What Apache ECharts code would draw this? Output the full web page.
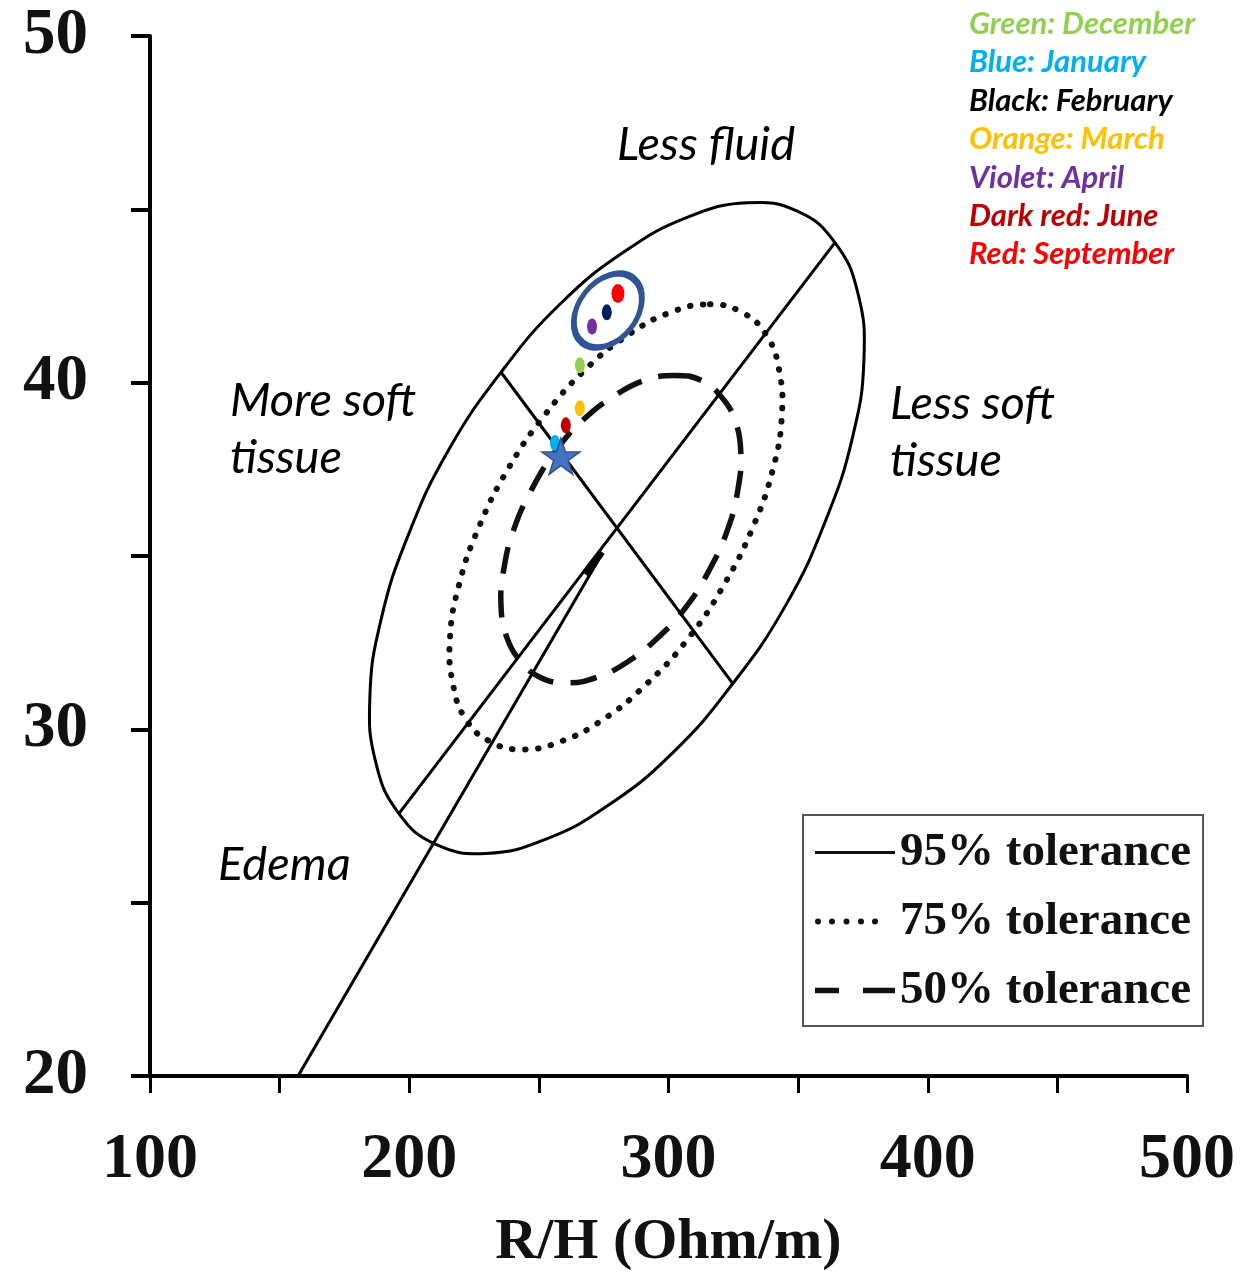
<!DOCTYPE html>
<html><head><meta charset="utf-8">
<script src="https://cdn.jsdelivr.net/npm/echarts@6/dist/echarts.min.js"></script>
<style>html,body{margin:0;padding:0;background:#fff}#c{width:1246px;height:1277px}</style>
</head><body><div id="c"></div>
<script>
// ---- data (R/H, Xc/H) ----
const xTickValues = [100, 200, 300, 400, 500];
const yTickValues = [20, 30, 40, 50];
const ellipse95 = [[364.2,44.04],[373.0,42.60],[375.4,40.70],[371.1,38.46],[360.7,36.04],[345.3,33.59],[324.8,31.32],[301.7,29.33],[276.6,27.80],[252.3,26.82],[229.6,26.42],[210.3,26.68],[196.0,27.57],[187.2,29.01],[184.8,30.91],[189.1,33.16],[199.5,35.58],[214.9,38.02],[235.4,40.30],[258.5,42.29],[283.6,43.81],[307.9,44.79],[330.6,45.19],[349.9,44.94]];
const ellipse75 = [[316.0,42.26],[328.3,42.03],[337.6,41.39],[342.6,40.39],[343.7,39.03],[340.3,37.51],[332.6,35.84],[321.4,34.17],[307.5,32.61],[291.3,31.29],[274.7,30.28],[258.5,29.65],[243.5,29.42],[231.1,29.65],[221.9,30.28],[216.9,31.29],[215.7,32.61],[219.2,34.17],[226.9,35.84],[238.1,37.51],[251.9,39.03],[268.1,40.39],[284.7,41.39],[300.9,42.03]];
const ellipse50 = [[302.5,40.21],[312.5,40.07],[320.2,39.61],[325.6,38.92],[327.9,38.00],[326.8,36.93],[322.9,35.78],[316.0,34.63],[307.1,33.56],[295.9,32.64],[284.3,31.95],[272.0,31.49],[260.8,31.34],[250.8,31.49],[243.1,31.95],[237.7,32.64],[235.4,33.56],[236.5,34.63],[240.4,35.78],[247.3,36.93],[256.2,38.00],[267.0,38.92],[278.9,39.61],[290.9,40.07]];
const majorAxis = [[196.0,27.57],[364.2,44.04]];
const minorAxis = [[235.4,40.30],[324.8,31.32]];
const edemaLine = [[157.1,20.0],[274.3,35.06]];
const edemaTip = [[267.8,34.48],[274.3,35.12]];
const monthLabels = ['Green: December','Blue: January','Black: February','Orange: March','Violet: April','Dark red: June','Red: September'];
const monthR  = [265.8, 256.2, 276.2, 265.8, 270.5, 260.4, 280.5];
const monthXc = [40.50, 38.26, 42.03, 39.26, 41.62, 38.77, 42.57];
const baseline = [258.5, 37.88];
const clusterCenter = [276.6, 42.08];
const toleranceNames = ['95% tolerance','75% tolerance','50% tolerance'];

// ---- styles ----
const dotColors = ['#92D050','#00B0F0','#002060','#FFC000','#7030A0','#C00000','#FF0000'];
const labelColors = ['#92D050','#00B0F0','#000000','#FFC000','#7030A0','#C00000','#FF0000'];
const starPath = 'path://M50,0 L61.2,34.5 L97.6,34.5 L68.2,55.9 L79.4,90.5 L50,69.1 L20.6,90.5 L31.8,55.9 L2.4,34.5 L38.8,34.5 Z';
const dot = c => `M${c-3},10 A3,3 0 1,1 ${c+3},10 A3,3 0 1,1 ${c-3},10 Z `;
const legendIcons = [
  'path://M0,0 M80,20 M0,8.5 H80 V11.5 H0 Z',
  'path://M0,0 M80,20 ' + [3, 17, 31.5, 46, 60].map(dot).join(''),
  'path://M0,0 M80,20 M0,7.3 H24 V12.7 H0 Z M48,7.3 H80 V12.7 H48 Z'
];
const toleranceStyles = [
  {stroke: '#000', lineWidth: 3},
  {stroke: '#111', lineWidth: 6, lineDash: [0.5, 12.5], lineCap: 'round'},
  {stroke: '#111', lineWidth: 5.5, lineDash: [27, 17], lineCap: 'butt'}
];

const chart = echarts.init(document.getElementById('c'), null, {renderer: 'canvas'});

function ellipseSeries(name, pts, style) {
  return {type: 'custom', name: name, data: pts, silent: true, animation: false, z: 3, clip: false,
    itemStyle: {color: '#111'},
    renderItem: (params, api) => {
      if (params.dataIndex !== 0) return null;
      const p = pts.map(d => api.coord(d));
      return {type: 'polygon', shape: {points: p, smooth: 0.45},
        style: Object.assign({fill: 'none'}, style)};
    }};
}

const lineBase = {type: 'line', symbol: 'none', silent: true, animation: false, z: 3};
const series = [
  ellipseSeries(toleranceNames[0], ellipse95, toleranceStyles[0]),
  ellipseSeries(toleranceNames[1], ellipse75, toleranceStyles[1]),
  ellipseSeries(toleranceNames[2], ellipse50, toleranceStyles[2]),
  Object.assign({}, lineBase, {name: 'major', data: majorAxis, lineStyle: {color: '#000', width: 3}}),
  Object.assign({}, lineBase, {name: 'minor', data: minorAxis, lineStyle: {color: '#000', width: 3}}),
  Object.assign({}, lineBase, {name: 'edema', data: edemaLine, lineStyle: {color: '#000', width: 3}}),
  Object.assign({}, lineBase, {name: 'edemaTip', data: edemaTip, lineStyle: {color: '#000', width: 7}})
];
monthLabels.forEach((lab, i) => {
  series.push({type: 'scatter', name: lab, silent: true, animation: false, z: 6,
    data: [[monthR[i], monthXc[i]]], symbol: 'circle',
    symbolSize: i === 6 ? [13, 19] : [10, 16],
    itemStyle: {color: dotColors[i], opacity: 1}});
});
series.push({type: 'scatter', name: 'cluster', silent: true, animation: false, z: 5,
  data: [clusterCenter], symbol: 'circle', symbolSize: [58, 82], symbolRotate: -38,
  itemStyle: {color: 'rgba(0,0,0,0)', borderColor: '#2F5597', borderWidth: 6, opacity: 1}});
series.push({type: 'scatter', name: 'baseline', silent: true, animation: false, z: 7,
  data: [baseline], symbol: starPath, symbolSize: [38, 36],
  itemStyle: {color: '#4472C4', borderColor: '#2F528F', borderWidth: 1.5, opacity: 1}});

const italic = (t, x, y) => ({type: 'text', x: x, y: y, silent: true,
  style: {text: t, fontFamily: 'Lato', fontStyle: 'italic', fontSize: 47, fill: '#000', verticalAlign: 'middle', align: 'left'}});

const graphic = [
  italic('Less fluid', 617, 145),
  italic('More soft', 230, 401),
  italic('tissue', 230, 458),
  italic('Less soft', 890, 404),
  italic('tissue', 890, 461),
  italic('Edema', 218, 865)
];
monthLabels.forEach((lab, i) => {
  graphic.push({type: 'text', x: 969, y: 24 + i * 38.4, silent: true,
    style: {text: lab, fontFamily: 'Lato', fontStyle: 'italic', fontWeight: 'bold', fontSize: 31,
      fill: labelColors[i], verticalAlign: 'middle', align: 'left'}});
});

chart.setOption({
  animation: false,
  backgroundColor: '#fff',
  grid: {left: 150, right: 59, top: 36, bottom: 199, containLabel: false},
  xAxis: {
    type: 'value', min: 100, max: 500, interval: 50,
    name: 'R/H (Ohm/m)', nameLocation: 'middle', nameGap: 138,
    nameTextStyle: {fontFamily: 'Liberation Serif', fontWeight: 'bold', fontSize: 58, color: '#111'},
    axisLine: {show: true, lineStyle: {color: '#000', width: 4}},
    axisTick: {show: true, length: 17, lineStyle: {color: '#000', width: 3}},
    axisLabel: {margin: 52, fontFamily: 'Liberation Serif', fontWeight: 'bold', fontSize: 64, color: '#111',
      formatter: v => xTickValues.indexOf(v) >= 0 ? String(v) : ''},
    splitLine: {show: false}
  },
  yAxis: {
    type: 'value', min: 20, max: 50, interval: 5,
    axisLine: {show: true, lineStyle: {color: '#000', width: 4}},
    axisTick: {show: true, length: 19, lineStyle: {color: '#000', width: 4}},
    axisLabel: {margin: 62, fontFamily: 'Liberation Serif', fontWeight: 'bold', fontSize: 65, color: '#111',
      formatter: v => yTickValues.indexOf(v) >= 0 ? String(v) : ''},
    splitLine: {show: false}
  },
  legend: {
    data: toleranceNames.map((n, i) => ({name: n, icon: legendIcons[i], itemStyle: {color: '#111', borderWidth: 0}})),
    orient: 'vertical', left: 803, top: 815,
    itemWidth: 80, itemHeight: 20, itemGap: 22, padding: [14, 12, 12, 12],
    borderColor: '#555', borderWidth: 2, backgroundColor: '#fff', selectedMode: false,
    itemStyle: {borderWidth: 0},
    textStyle: {fontFamily: 'Liberation Serif', fontWeight: 'bold', fontSize: 47, color: '#111'}
  },
  graphic: graphic,
  series: series
});
</script></body></html>
